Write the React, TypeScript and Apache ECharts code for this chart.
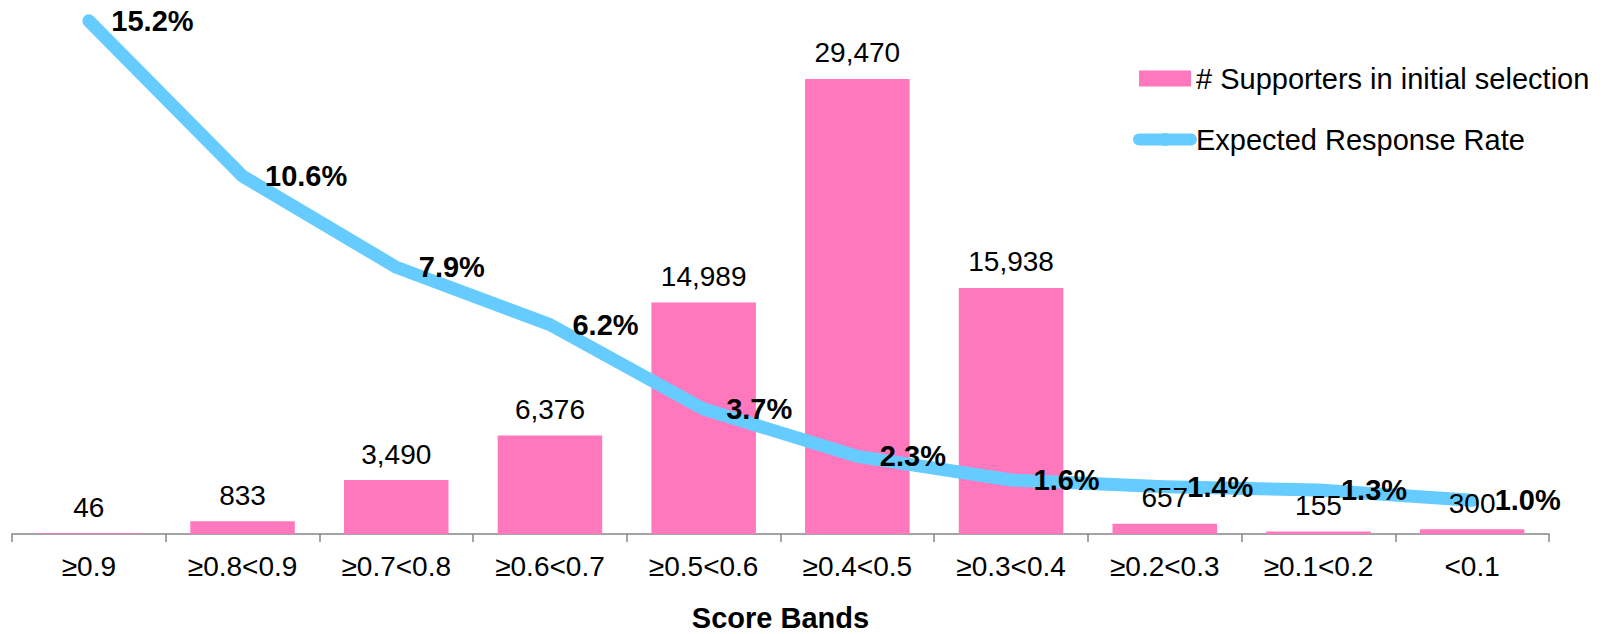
import React, { useEffect, useRef } from "react";
import * as echarts from "echarts";

const categories = ["≥0.9", "≥0.8<0.9", "≥0.7<0.8", "≥0.6<0.7", "≥0.5<0.6", "≥0.4<0.5", "≥0.3<0.4", "≥0.2<0.3", "≥0.1<0.2", "<0.1"];
const supporters = [46, 833, 3490, 6376, 14989, 29470, 15938, 657, 155, 300];
const responseRate = [15.2, 10.6, 7.9, 6.2, 3.7, 2.3, 1.6, 1.4, 1.3, 1.0];
const barName = "# Supporters in initial selection";
const lineName = "Expected Response Rate";
const xAxisTitle = "Score Bands";

const FONT = "'Liberation Sans', Arial, Helvetica, sans-serif";
const PINK = "#FF77BD";
const BLUE = "#66CCFF";

export default function App() {
  const ref = useRef<HTMLDivElement>(null);
  useEffect(() => {
    const chart = echarts.init(ref.current!, null, { renderer: "svg" });
    chart.setOption({
      animation: false,
      backgroundColor: "#ffffff",
      textStyle: { fontFamily: FONT },
      grid: { left: 12, right: 59, top: 9, bottom: 100, containLabel: false, outerBoundsMode: "none" },
      legend: {
        orient: "vertical",
        left: 1128,
        top: 59,
        itemWidth: 52,
        itemHeight: 16,
        itemGap: 32,
        textStyle: { fontSize: 29, color: "#000", fontFamily: FONT },
        data: [
          { name: barName, icon: "rect", itemStyle: { color: PINK } },
          { name: lineName, lineStyle: { width: 12, cap: "round", color: BLUE } },
        ],
      },
      xAxis: {
        type: "category",
        data: categories,
        boundaryGap: true,
        axisLine: { lineStyle: { color: "#868686", width: 1.5 } },
        axisTick: { show: true, length: 8, lineStyle: { color: "#868686", width: 1.5 } },
        axisLabel: { fontSize: 28, color: "#000", margin: 18, fontFamily: FONT },
        name: xAxisTitle,
        nameLocation: "middle",
        nameGap: 69,
        nameTextStyle: { fontSize: 29, fontWeight: "bold", color: "#000", fontFamily: FONT },
      },
      yAxis: [
        { type: "value", min: 0, max: 34000, show: false, splitLine: { show: false } },
        { type: "value", min: 0, max: 15.55, show: false, splitLine: { show: false } },
      ],
      series: [
        {
          name: barName,
          type: "bar",
          data: supporters,
          barWidth: "68%",
          itemStyle: { color: PINK },
          z: 2,
        },
        {
          name: "barLabels",
          type: "bar",
          data: supporters,
          barWidth: "68%",
          barGap: "-100%",
          itemStyle: { color: "rgba(0,0,0,0)" },
          silent: true,
          z: 5,
          label: {
            show: true,
            position: "top",
            distance: 12,
            fontSize: 28,
            color: "#000",
            fontFamily: FONT,
            formatter: (p: any) => Number(p.value).toLocaleString("en-US"),
          },
        },
        {
          name: lineName,
          type: "line",
          yAxisIndex: 1,
          data: responseRate,
          symbol: "circle",
          symbolSize: 1,
          showSymbol: true,
          itemStyle: { color: BLUE },
          lineStyle: { color: BLUE, width: 13, cap: "round", join: "round" },
          z: 3,
          label: {
            show: true,
            position: "right",
            distance: 22,
            fontSize: 29,
            fontWeight: "bold",
            color: "#000",
            fontFamily: FONT,
            formatter: (p: any) => Number(p.value).toFixed(1) + "%",
          },
        },
      ],
    });
    return () => chart.dispose();
  }, []);
  return (
    <div
      ref={ref}
      style={{ position: "fixed", left: 0, top: 0, width: 1608, height: 634, background: "#fff" }}
    />
  );
}
